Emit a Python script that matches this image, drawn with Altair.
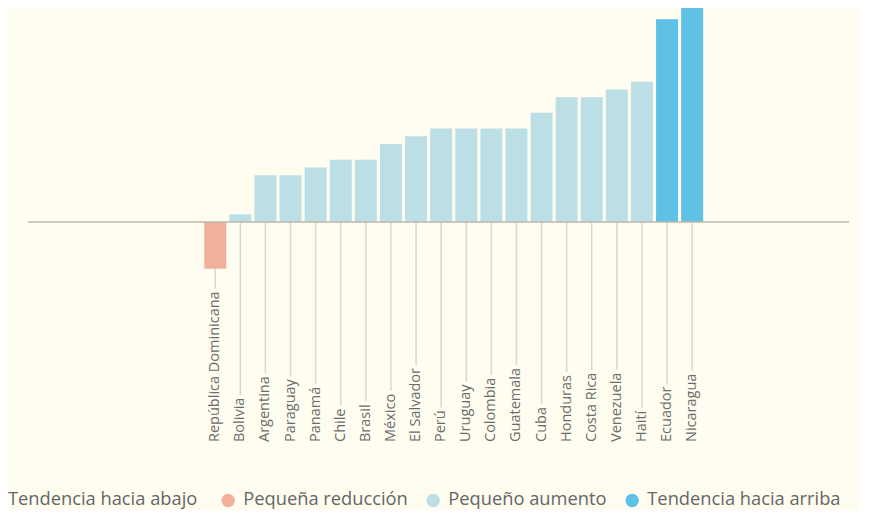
import altair as alt
import pandas as pd

countries = ["República Dominicana", "Bolivia", "Argentina", "Paraguay", "Panamá",
             "Chile", "Brasil", "México", "El Salvador", "Perú", "Uruguay",
             "Colombia", "Guatemala", "Cuba", "Honduras", "Costa Rica",
             "Venezuela", "Haití", "Ecuador", "Nicaragua"]
values = [-6, 1, 6, 6, 7, 8, 8, 10, 11, 12, 12, 12, 12, 14, 16, 16, 17, 18, 26, 30]
groups = ["Pequeña reducción"] + ["Pequeño aumento"] * 17 + ["Tendencia hacia arriba"] * 2

legend_title = "Tendencia hacia abajo"
group_names = ["Pequeña reducción", "Pequeño aumento", "Tendencia hacia arriba"]
group_colors = ["#f3b09b", "#bcdee5", "#5ec1e5"]

df = pd.DataFrame({"country": countries, "value": values, "group": groups})

BG = "#fffdf0"
FONT = "Open Sans"
W, H = 821, 434

xscale = alt.Scale(domain=countries, range=[174.7, 676.7], paddingInner=0.124, paddingOuter=0.062)
yscale = alt.Scale(domain=[-28.2, 27.44], nice=False, zero=False)

base = alt.Chart(df).encode(
    x=alt.X("country:N", sort=countries, scale=xscale, axis=None)
)

ticks = base.mark_rule(color="#dbd7c9", strokeWidth=1.5).encode(
    y=alt.Y(datum=0, scale=yscale, axis=None),
    y2=alt.value(H),
)

zero = alt.Chart(pd.DataFrame({"z": [0]})).mark_rule(color="#bcb9ad", strokeWidth=1.5).encode(
    y=alt.Y("z:Q", scale=yscale, axis=None),
    x=alt.value(0),
    x2=alt.value(W),
)

bars = base.mark_bar(clip=True).encode(
    y=alt.Y("value:Q", scale=yscale, axis=None),
    color=alt.Color(
        "group:N",
        scale=alt.Scale(domain=group_names, range=group_colors),
        legend=alt.Legend(
            title=legend_title,
            titleOrient="left",
            orient="none",
            legendX=-20,
            legendY=483,
            direction="horizontal",
            symbolType="circle",
            symbolSize=180,
            symbolStrokeWidth=0,
            labelOffset=6,
            columnPadding=16,
            titlePadding=21,
            labelLimit=0,
            titleLimit=0,
        ),
    ),
)

halo = base.mark_text(
    angle=270, align="left", baseline="middle", font=FONT, fontSize=14.5,
    fill=BG, stroke=BG, strokeWidth=8, strokeJoin="round",
).encode(y=alt.value(H), text="country:N")

labels = base.mark_text(
    angle=270, align="left", baseline="middle", font=FONT, fontSize=14.5,
    color="#6b6b6b",
).encode(y=alt.value(H), text="country:N")

chart = alt.layer(ticks, bars, zero, halo, labels).properties(
    width=W, height=H,
    autosize=alt.AutoSizeParams(type="none"),
    padding={"left": 20, "top": 0, "right": 10, "bottom": 68},
    background=BG,
).configure_view(stroke=None).configure_legend(
    labelFont=FONT, labelFontSize=18.3, labelColor="#666666", labelFontWeight="normal",
    titleFont=FONT, titleFontSize=18.3, titleColor="#666666", titleFontWeight="normal",
)

chart.save("out.html", embed_options={"renderer": "svg", "actions": False})
